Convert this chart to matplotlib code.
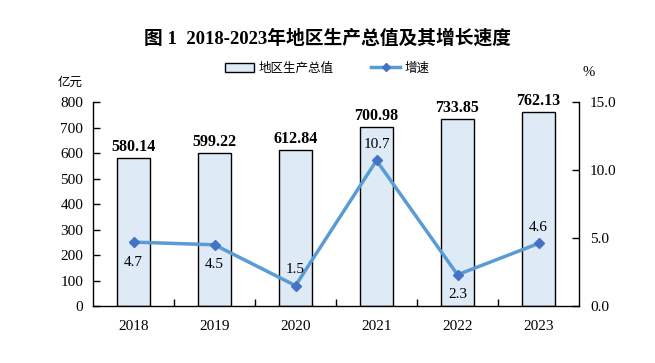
import matplotlib.pyplot as plt
import numpy as np

years = ["2018", "2019", "2020", "2021", "2022", "2023"]
gdp = [580.14, 599.22, 612.84, 700.98, 733.85, 762.13]
growth = [4.7, 4.5, 1.5, 10.7, 2.3, 4.6]
growth_pos = ["below", "below", "above", "above", "below", "above"]
left_ticks = list(range(0, 801, 100))
right_ticks = [0.0, 5.0, 10.0, 15.0]

plt.rcParams['font.family'] = ['Liberation Serif', 'Noto Sans CJK SC']

fig = plt.figure(figsize=(6.55, 3.63), dpi=100)
ax = fig.add_axes([0.142, 0.157, 0.742, 0.562])
ax2 = ax.twinx()

x = np.arange(len(years))
bars = ax.bar(x, gdp, 0.4, color='#deeaf6', edgecolor='black', linewidth=1.0,
              label='地区生产总值', zorder=2)
for xi, v in zip(x, gdp):
    ax.text(xi, v + 12, f"{v:.2f}", ha='center', va='bottom', fontsize=11.5,
            fontweight='bold')

ax.set_xlim(-0.5, len(years) - 0.5)
ax.set_ylim(0, 800)
ax.set_yticks(left_ticks)
ax.set_yticklabels([str(t) for t in left_ticks], fontsize=11)
ax.set_xticks(x)
ax.set_xticklabels(years, fontsize=11)
ax.tick_params(axis='x', length=0, pad=10)
ax.set_xticks(np.arange(0.5, len(years) - 0.5, 1), minor=True)
ax.tick_params(axis='x', which='minor', direction='in', length=5, width=1)
ax.tick_params(axis='y', direction='in', length=5, width=1, pad=7)
ax.spines['top'].set_visible(False)
ax.spines['right'].set_visible(False)
for s in ['left', 'bottom']:
    ax.spines[s].set_linewidth(1.0)

line, = ax2.plot(x, growth, color='#5b9bd5', linewidth=2.5, marker='D',
                 markersize=5.5, markerfacecolor='#4472c4', markeredgecolor='#4472c4',
                 label='增速', zorder=3)
for xi, v, p in zip(x, growth, growth_pos):
    if p == 'above':
        ax2.text(xi, v + 0.7, f"{v:.1f}", ha='center', va='bottom', fontsize=11)
    else:
        ax2.text(xi, v - 1.0, f"{v:.1f}", ha='center', va='top', fontsize=11)
ax2.set_ylim(0, 15)
ax2.set_yticks(right_ticks)
ax2.set_yticklabels([f"{t:.1f}" for t in right_ticks], fontsize=11)
ax2.tick_params(axis='y', direction='in', length=5, width=1, pad=8)
for s in ['top', 'left', 'bottom']:
    ax2.spines[s].set_visible(False)
ax2.spines['right'].set_linewidth(1.0)

fig.text(0.5, 0.895, "图 1  2018-2023年地区生产总值及其增长速度", ha='center',
         va='center', fontsize=13.5, fontweight='bold')
fig.text(0.107, 0.773, "亿元", ha='center', va='center', fontsize=9,
         family=['Noto Sans CJK SC'], style='italic')
fig.text(0.898, 0.80, "%", ha='center', va='center', fontsize=10.5)

fig.legend([bars, line], ['地区生产总值', '增速'], loc='center',
           bbox_to_anchor=(0.5, 0.812), ncol=2, frameon=False,
           prop={'family': 'Noto Sans CJK SC', 'size': 9}, markerscale=0.7,
           handlelength=2.3, columnspacing=3, handletextpad=0.4)

fig.savefig('out.png', dpi=100)
